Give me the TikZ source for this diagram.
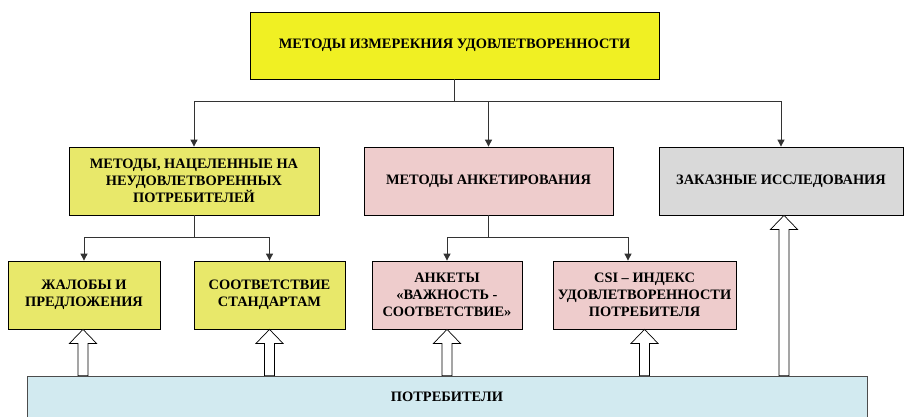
\documentclass[tikz,border=0pt]{standalone}
\usepackage{fontspec}
\setmainfont{Liberation Serif}
\usetikzlibrary{arrows.meta,calc}
\definecolor{ctop}{RGB}{240,240,35}
\definecolor{cyel}{RGB}{232,232,106}
\definecolor{cpink}{RGB}{238,204,204}
\definecolor{cgray}{RGB}{217,217,217}
\definecolor{cblue}{RGB}{210,234,240}
\newcommand\harrow[2]{%
  \path[hollowarrow] let \p1=(#1), \p2=(#2) in
    (\x1,\y1) -- (\x1+13.5pt,\y1-14pt) -- (\x1+5pt,\y1-14pt) -- (\x1+5pt,\y2)
    -- (\x1-5pt,\y2) -- (\x1-5pt,\y1-14pt) -- (\x1-13.5pt,\y1-14pt) -- cycle;}
\begin{document}
\begin{tikzpicture}[x=1pt,y=-1pt,
  box/.style={draw=black, line width=0.8pt, inner sep=0pt, align=center,
    font=\bfseries\fontsize{14.4}{17}\selectfont},
  conn/.style={draw=black!80, line width=0.9pt},
  arr/.style={conn, -{Triangle[width=7pt,length=7pt]}},
  hollowarrow/.style={draw=black, fill=white, line width=0.7pt, line join=miter}]
\clip (0,0) rectangle (904,417);
\fill[white] (0,0) rectangle (904,417);
% nodes
\node[box, fill=ctop, minimum width=409, minimum height=67] (top) at (454.5,45.5)
  {МЕТОДЫ ИЗМЕРЕКНИЯ УДОВЛЕТВОРЕННОСТИ};
\node[box, fill=cyel, minimum width=250, minimum height=68] (nm) at (194,181)
  {МЕТОДЫ, НАЦЕЛЕННЫЕ НА\\НЕУДОВЛЕТВОРЕННЫХ\\ПОТРЕБИТЕЛЕЙ};
\node[box, fill=cpink, minimum width=249, minimum height=68] (ank) at (488.5,181)
  {МЕТОДЫ АНКЕТИРОВАНИЯ};
\node[box, fill=cgray, minimum width=244, minimum height=68] (zak) at (781,181)
  {ЗАКАЗНЫЕ ИССЛЕДОВАНИЯ};
\node[box, fill=cyel, minimum width=152, minimum height=68] (b1) at (84,295)
  {ЖАЛОБЫ И\\ПРЕДЛОЖЕНИЯ};
\node[box, fill=cyel, minimum width=151, minimum height=68] (b2) at (269.5,295)
  {СООТВЕТСТВИЕ\\СТАНДАРТАМ};
\node[box, fill=cpink, minimum width=150, minimum height=68] (b3) at (447,295)
  {АНКЕТЫ\\«ВАЖНОСТЬ -\\СООТВЕТСТВИЕ»};
\node[box, fill=cpink, minimum width=183, minimum height=68] (b5) at (644.5,295)
  {CSI – ИНДЕКС\\УДОВЛЕТВОРЕННОСТИ\\ПОТРЕБИТЕЛЯ};
\node[box, fill=cblue, draw=black!70, minimum width=840, minimum height=42] (bot) at (447,397)
  {ПОТРЕБИТЕЛИ};
% coordinates for connector junctions
\coordinate (j0) at ($(top.south)+(0,22)$);
\coordinate (j1) at ($(nm.south)+(0,22)$);
\coordinate (j2) at ($(ank.south)+(0,22)$);
\coordinate (tb5) at ($(b5.north)+(-16.5,0)$);
% top level connectors
\draw[conn] (top.south) -- (j0);
\draw[conn] (j0 -| nm.north) -- (j0 -| zak.north);
\draw[arr] (j0 -| nm.north) -- (nm.north);
\draw[arr] (j0 -| ank.north) -- (ank.north);
\draw[arr] (j0 -| zak.north) -- (zak.north);
% left group
\draw[conn] (nm.south) -- (j1);
\draw[conn] (j1 -| b1.north) -- (j1 -| b2.north);
\draw[arr] (j1 -| b1.north) -- (b1.north);
\draw[arr] (j1 -| b2.north) -- (b2.north);
% middle group
\draw[conn] (ank.south) -- (j2);
\draw[conn] (j2 -| b3.north) -- (j2 -| tb5);
\draw[arr] (j2 -| b3.north) -- (b3.north);
\draw[arr] (j2 -| tb5) -- (tb5);
% hollow arrows from consumers
\coordinate (h1) at ($(b1.south)+(-1,0)$);
\coordinate (h5) at ($(zak.south)+(3,0)$);
\harrow{h1}{h1 |- bot.north}
\harrow{b2.south}{b2.south |- bot.north}
\harrow{b3.south}{b3.south |- bot.north}
\harrow{b5.south}{b5.south |- bot.north}
\harrow{h5}{h5 |- bot.north}
\end{tikzpicture}
\end{document}
